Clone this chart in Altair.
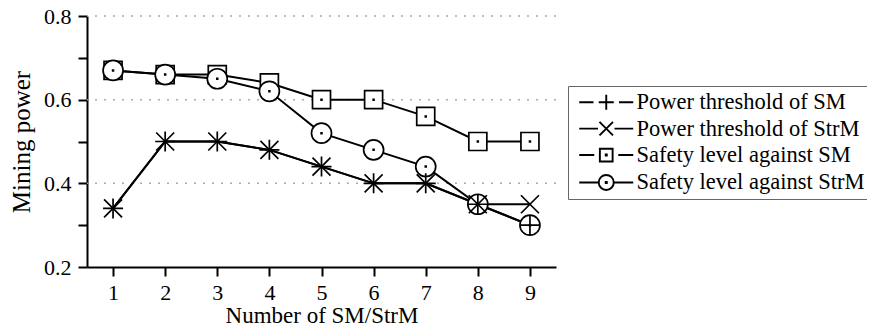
import altair as alt
import pandas as pd

# ---- data ----
x_vals = [1, 2, 3, 4, 5, 6, 7, 8, 9]
series_names = [
    "Power threshold of SM",
    "Power threshold of StrM",
    "Safety level against SM",
    "Safety level against StrM",
]
pt_sm = [0.34, 0.50, 0.50, 0.48, 0.44, 0.40, 0.40, 0.35, 0.30]
pt_strm = [0.34, 0.50, 0.50, 0.48, 0.44, 0.40, 0.40, 0.35, 0.35]
sl_sm = [0.67, 0.66, 0.66, 0.64, 0.60, 0.60, 0.56, 0.50, 0.50]
sl_strm = [0.67, 0.66, 0.65, 0.62, 0.52, 0.48, 0.44, 0.35, 0.30]
y_ticks = [0.2, 0.3, 0.4, 0.5, 0.6, 0.7, 0.8]
grid_vals = [0.4, 0.6, 0.8]

values = [pt_sm, pt_strm, sl_sm, sl_strm]
rows = []
for name, vals in zip(series_names, values):
    for xv, yv in zip(x_vals, vals):
        rows.append({"n": xv, "p": yv, "series": name})
df = pd.DataFrame(rows)
grid_df = pd.DataFrame({"g": grid_vals})

FONT = "Liberation Serif"

# marker shapes in plot (unit box, scaled by size)
DOT = "M-0.04,-0.04L0.04,-0.04L0.04,0.04L-0.04,0.04Z"
PLUS = "M-1,0L1,0M0,-1L0,1"
CROSS = "M-0.9,-0.9L0.9,0.9M-0.9,0.9L0.9,-0.9"
SQUARE = "M-0.9,-0.9L0.9,-0.9L0.9,0.9L-0.9,0.9Z" + DOT
CIRCLE = "M1,0A1,1,0,1,1,-1,0A1,1,0,1,1,1,0Z" + DOT

# legend sample shapes (line - marker - line)
LDOT = "M-0.07,-0.07L0.07,-0.07L0.07,0.07L-0.07,0.07Z"
L_PLUS = "M-3.6,0L-1.7,0M-1,0L1,0M0,-1L0,1M1.7,0L3.6,0"
L_CROSS = "M-3.6,0L-1.1,0M-0.9,-0.9L0.9,0.9M-0.9,0.9L0.9,-0.9M1.1,0L3.6,0"
L_SQUARE = "M-3.6,0L-1.6,0M-0.85,-0.85L0.85,-0.85L0.85,0.85L-0.85,0.85ZM1.6,0L3.6,0" + LDOT
L_CIRCLE = "M-3.6,0L-1.05,0M1,0A1,1,0,1,1,-1,0A1,1,0,1,1,1,0ZM1.05,0L3.6,0" + LDOT

xscale = alt.Scale(domain=[0.5, 9.5], nice=False, zero=False)
yscale = alt.Scale(domain=[0.2, 0.8], nice=False, zero=False)

xaxis = alt.Axis(values=x_vals, title="Number of SM/StrM", labelPadding=6,
                 titlePadding=1, titleFontSize=23)
yaxis = alt.Axis(
    values=y_ticks,
    title="Mining power",
    labelExpr="round(datum.value*10) % 2 == 0 ? format(datum.value, '.1f') : ''",
    labelPadding=7,
    titlePadding=9,
    titleFontSize=25,
)

base = alt.Chart(df)

grid = alt.Chart(grid_df).mark_rule(
    color="#aaaaaa", strokeWidth=1.5, strokeDash=[2, 7]
).encode(
    y=alt.Y("g:Q", scale=yscale, axis=yaxis),
)

lines = base.mark_line(color="black", strokeWidth=2).encode(
    x=alt.X("n:Q", scale=xscale, axis=xaxis),
    y=alt.Y("p:Q", scale=yscale, axis=yaxis),
    detail="series:N",
    order="n:Q",
)


def markers(name, path, fill):
    props = dict(shape=path, size=400, stroke="black", strokeWidth=1.7, opacity=1)
    if fill:
        props.update(filled=True, fill="white", fillOpacity=1)
    else:
        props.update(filled=False)
    return base.transform_filter(alt.datum.series == name).mark_point(**props).encode(
        x=alt.X("n:Q", scale=xscale, axis=xaxis),
        y=alt.Y("p:Q", scale=yscale, axis=yaxis),
    )


m_sq = markers(series_names[2], SQUARE, True)
m_ci = markers(series_names[3], CIRCLE, True)
m_pl = markers(series_names[0], PLUS, False)
m_cr = markers(series_names[1], CROSS, False)

legend_layer = base.transform_filter("false").mark_point(filled=False).encode(
    x=alt.X("n:Q", scale=xscale, axis=xaxis),
    y=alt.Y("p:Q", scale=yscale, axis=yaxis),
    shape=alt.Shape(
        "series:N",
        scale=alt.Scale(domain=series_names, range=[L_PLUS, L_CROSS, L_SQUARE, L_CIRCLE]),
        legend=alt.Legend(
            title=None,
            orient="none",
            legendX=481,
            legendY=70,
            symbolSize=225,
            symbolOffset=22,
            labelOffset=19,
            symbolStrokeColor="black",
            symbolFillColor="transparent",
            symbolStrokeWidth=1.9,
            symbolOpacity=1,
            labelFont=FONT,
            labelFontSize=22.5,
            labelColor="black",
            labelLimit=400,
            rowPadding=3.4,
            padding=5,
            strokeColor="#666666",
        ),
    ),
)

chart = alt.layer(grid, lines, m_sq, m_ci, m_pl, m_cr, legend_layer).properties(
    width=469,
    height=251,
    background="white",
    autosize=alt.AutoSizeParams(type="none"),
    padding={"left": 79, "top": 8, "right": 311, "bottom": 64},
).configure_view(stroke=None).configure_axis(
    grid=False,
    domainColor="black",
    domainWidth=2,
    tickColor="black",
    tickWidth=2,
    tickSize=9,
    labelFont=FONT,
    labelFontSize=22,
    labelColor="black",
    titleFont=FONT,
    titleFontWeight="normal",
    titleColor="black",
)

chart.save("out.html", embed_options={"renderer": "svg", "actions": False})
